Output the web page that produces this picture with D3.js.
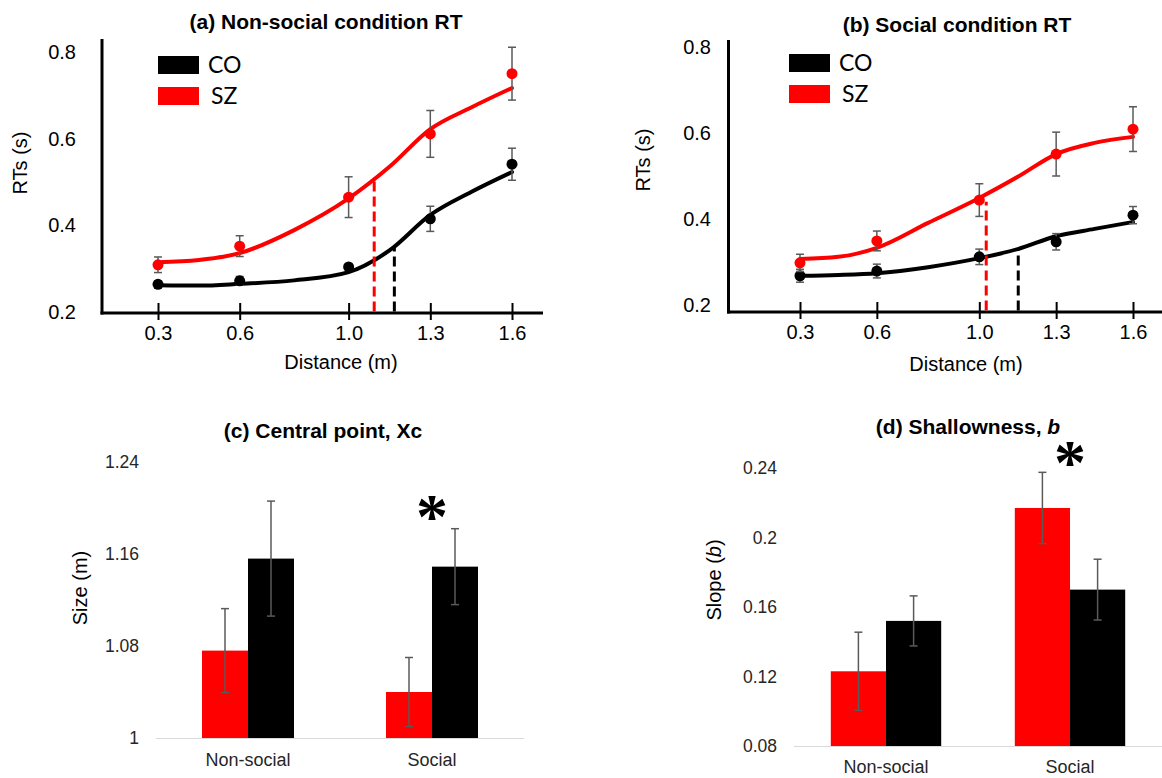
<!DOCTYPE html>
<html>
<head>
<meta charset="utf-8">
<script src="https://cdn.jsdelivr.net/npm/d3@7"></script>
<style>
body { margin: 0; background: #fff; }
svg { display: block; font-family: "Liberation Sans", Arial, sans-serif; }
</style>
</head>
<body>
<svg width="1162" height="778"></svg>
<script>
// ---- data ----
var distances = [0.3, 0.6, 1.0, 1.3, 1.6];          // x categories (m)
var distTicks = ["0.3", "0.6", "1.0", "1.3", "1.6"];
var rtTicks = [0.2, 0.4, 0.6, 0.8];

// (a) non-social condition: mean RT and error
var nsSZ = [0.309, 0.352, 0.465, 0.611, 0.750];
var nsSZerr = [0.018, 0.024, 0.047, 0.054, 0.061];
var nsCO = [0.264, 0.272, 0.304, 0.415, 0.541];
var nsCOerr = [0.008, 0.010, 0.005, 0.029, 0.037];

// (b) social condition
var soSZ = [0.298, 0.349, 0.444, 0.551, 0.609];
var soSZerr = [0.020, 0.023, 0.038, 0.051, 0.052];
var soCO = [0.268, 0.279, 0.312, 0.347, 0.409];
var soCOerr = [0.015, 0.016, 0.018, 0.019, 0.020];

// fitted curves, sampled from the figure
var fitX = [0.3, 0.45, 0.6, 0.8, 1.0, 1.15, 1.3, 1.45, 1.6];
var nsSZfit = [0.315, 0.320, 0.336, 0.389, 0.462, 0.535, 0.622, 0.672, 0.717];
var nsCOfit = [0.262, 0.261, 0.265, 0.273, 0.292, 0.342, 0.424, 0.477, 0.523];
var soSZfit = [0.307, 0.312, 0.333, 0.391, 0.449, 0.498, 0.551, 0.577, 0.591];
var soCOfit = [0.268, 0.270, 0.274, 0.288, 0.309, 0.330, 0.360, 0.377, 0.393];

// central point markers (dashed lines): [xc, RT at curve]
var nsSZxc = [1.094, 0.505], nsCOxc = [1.168, 0.348];
var soSZxc = [1.027, 0.440], soCOxc = [1.152, 0.328];

// (c) / (d) bar charts
var conditions = ["Non-social", "Social"];
var groups = ["SZ", "CO"];
var xcSZ = [1.076, 1.040], xcSZerr = [0.0365, 0.030];
var xcCO = [1.156, 1.149], xcCOerr = [0.050, 0.033];
var xcTicks = [1, 1.08, 1.16, 1.24], xcTickLabels = ["1", "1.08", "1.16", "1.24"];
var bSZ = [0.123, 0.217], bSZerr = [0.0225, 0.0205];
var bCO = [0.152, 0.170], bCOerr = [0.0144, 0.0175];
var bTicks = [0.08, 0.12, 0.16, 0.2, 0.24], bTickLabels = ["0.08", "0.12", "0.16", "0.2", "0.24"];

var colors = {SZ: "#ff0000", CO: "#000000"};
var errColor = "#5a5a5a";

var svg = d3.select("svg");

function errorBar(g, cx, y1, y2) {
    g.append("line").attr("x1", cx).attr("x2", cx).attr("y1", y1).attr("y2", y2)
        .attr("stroke", errColor).attr("stroke-width", 1.5);
    [y1, y2].forEach(function (yy) {
        g.append("line").attr("x1", cx - 4).attr("x2", cx + 4).attr("y1", yy).attr("y2", yy)
            .attr("stroke", errColor).attr("stroke-width", 1.5);
    });
}

function linePanel(p) {
    var g = svg.append("g");
    var x = d3.scaleLinear().domain([0.3, 1.6]).range(p.xr),
        y = d3.scaleLinear().domain([0.2, 0.8]).range(p.yr);

    // axes
    g.append("line").attr("x1", p.axisX).attr("x2", p.axisX).attr("y1", p.axisTop).attr("y2", p.axisY + 1.5)
        .attr("stroke", "#000").attr("stroke-width", 3);
    g.append("line").attr("x1", p.axisX - 1.5).attr("x2", p.axisRight).attr("y1", p.axisY).attr("y2", p.axisY)
        .attr("stroke", "#000").attr("stroke-width", 3);

    var xa = g.append("g").attr("transform", "translate(0," + p.axisY + ")")
        .call(d3.axisBottom(x).tickValues(distances).tickFormat(function (d, i) { return distTicks[i]; }));
    xa.select(".domain").remove();
    xa.attr("font-family", null).attr("font-size", null);
    xa.selectAll(".tick line").attr("y1", -10).attr("y2", 7).attr("stroke", "#000").attr("stroke-width", 2);
    xa.selectAll(".tick text").attr("y", 13).attr("font-size", 20).attr("fill", "#000");

    var ya = g.append("g").attr("transform", "translate(" + p.axisX + ",0)")
        .call(d3.axisLeft(y).tickValues(rtTicks).tickFormat(d3.format(".1f")).tickSize(0).tickPadding(p.axisX - p.labelRight));
    ya.select(".domain").remove();
    ya.attr("font-family", null).attr("font-size", null);
    ya.selectAll(".tick text").attr("font-size", 20).attr("fill", "#000");

    // titles
    g.append("text").attr("x", p.title[0]).attr("y", p.title[1]).attr("dy", "0.35em")
        .attr("text-anchor", "middle").attr("font-weight", "bold").attr("font-size", 21).text(p.titleText);
    g.append("text").attr("x", p.xTitle[0]).attr("y", p.xTitle[1]).attr("dy", "0.35em")
        .attr("text-anchor", "middle").attr("font-size", 20).text("Distance (m)");
    g.append("text").attr("transform", "translate(" + p.yTitle[0] + "," + p.yTitle[1] + ") rotate(-90)")
        .attr("dy", "0.35em").attr("text-anchor", "middle").attr("font-size", 20).text("RTs (s)");

    // legend
    [["CO", 0], ["SZ", 1]].forEach(function (l) {
        var ly = p.legend[1] + l[1] * 31;
        g.append("rect").attr("x", p.legend[0]).attr("y", ly).attr("width", 41).attr("height", 18).attr("fill", colors[l[0]]);
        g.append("text").attr("x", p.legend[0] + 50 + l[1] * 3).attr("y", ly + 9).attr("dy", "0.36em")
            .attr("font-family", "Lato, 'Liberation Sans', sans-serif")
            .attr("font-size", 23).text(l[0]);
    });

    var line = d3.line().curve(d3.curveMonotoneX)
        .x(function (d) { return x(d[0]); })
        .y(function (d) { return y(d[1]); });

    [["CO", p.coFit], ["SZ", p.szFit]].forEach(function (s) {
        g.append("path").attr("d", line(fitX.map(function (v, i) { return [v, s[1][i]]; })))
            .attr("fill", "none").attr("stroke", colors[s[0]]).attr("stroke-width", 4).attr("stroke-linecap", "round");
    });

    // dashed central points
    [["CO", p.coXc], ["SZ", p.szXc]].forEach(function (s) {
        g.append("line").attr("x1", x(s[1][0])).attr("x2", x(s[1][0]))
            .attr("y1", p.axisY - 1.5).attr("y2", y(s[1][1]))
            .attr("stroke", colors[s[0]]).attr("stroke-width", 3).attr("stroke-dasharray", "10,5");
    });

    // error bars and points
    [["CO", p.co, p.coErr], ["SZ", p.sz, p.szErr]].forEach(function (s) {
        distances.forEach(function (d, i) {
            errorBar(g, x(d), y(s[1][i] - s[2][i]), y(s[1][i] + s[2][i]));
        });
        g.selectAll(null).data(distances).enter().append("circle")
            .attr("cx", function (d) { return x(d); })
            .attr("cy", function (d, i) { return y(s[1][i]); })
            .attr("r", 5.5).attr("fill", colors[s[0]]);
    });
}

function barPanel(p) {
    var g = svg.append("g");
    var x0 = d3.scaleBand().domain(conditions).range(p.xr).paddingInner(p.pad).paddingOuter(p.pad / 2),
        x1 = d3.scaleBand().domain(groups).range([0, x0.bandwidth()]),
        y = d3.scaleLinear().domain([p.ticks[0], p.ticks[p.ticks.length - 1]]).range(p.yr);

    g.append("line").attr("x1", p.xr[0]).attr("x2", p.xr[1]).attr("y1", y(p.ticks[0]) + 0.5).attr("y2", y(p.ticks[0]) + 0.5)
        .attr("stroke", "#d9d9d9").attr("stroke-width", 1.2);

    var series = {SZ: [p.sz, p.szErr], CO: [p.co, p.coErr]};
    groups.forEach(function (grp) {
        g.selectAll(null).data(conditions).enter().append("rect")
            .attr("x", function (c) { return x0(c) + x1(grp); })
            .attr("y", function (c, i) { return y(series[grp][0][i]); })
            .attr("width", x1.bandwidth())
            .attr("height", function (c, i) { return y(p.ticks[0]) - y(series[grp][0][i]); })
            .attr("fill", colors[grp]);
    });
    groups.forEach(function (grp) {
        conditions.forEach(function (c, i) {
            var m = series[grp][0][i], e = series[grp][1][i];
            errorBar(g, x0(c) + x1(grp) + x1.bandwidth() / 2, y(m - e), y(m + e));
        });
    });

    var ya = g.append("g").attr("transform", "translate(" + p.labelRight + ",0)")
        .call(d3.axisLeft(y).tickValues(p.ticks).tickFormat(function (d, i) { return p.tickLabels[i]; }).tickSize(0).tickPadding(0));
    ya.select(".domain").remove();
    ya.attr("font-family", null).attr("font-size", null);
    ya.selectAll(".tick text").attr("font-size", 17.5).attr("fill", "#262626");

    var xa = g.append("g").attr("transform", "translate(0," + p.catY + ")")
        .call(d3.axisBottom(x0).tickSize(0).tickPadding(0));
    xa.select(".domain").remove();
    xa.attr("font-family", null).attr("font-size", null);
    xa.selectAll(".tick text").attr("dy", "0.35em").attr("font-size", 18).attr("fill", "#262626");

    var t = g.append("text").attr("x", p.title[0]).attr("y", p.title[1]).attr("dy", "0.35em")
        .attr("text-anchor", "middle").attr("font-weight", "bold").attr("font-size", 21);
    t.append("tspan").text(p.titleText[0]);
    if (p.titleText[1]) t.append("tspan").attr("font-style", "italic").text(p.titleText[1]);

    var yt = g.append("text").attr("transform", "translate(" + p.yTitle[0] + "," + p.yTitle[1] + ") rotate(-90)")
        .attr("dy", "0.35em").attr("text-anchor", "middle").attr("font-size", 20);
    yt.append("tspan").text(p.yTitleText[0]);
    if (p.yTitleText[1]) {
        yt.append("tspan").attr("font-style", "italic").text(p.yTitleText[1]);
        yt.append("tspan").text(p.yTitleText[2]);
    }

    g.append("text").attr("x", x0(p.star) + x0.bandwidth() / 2).attr("y", p.starY + 31)
        .attr("text-anchor", "middle").attr("font-family", "'Liberation Serif', serif")
        .attr("font-weight", "bold").attr("font-size", 64).text("*");
}

linePanel({
    xr: [158, 512], yr: [312, 52], axisX: 102, axisTop: 39, axisY: 313, axisRight: 543, labelRight: 76,
    title: [326, 22], titleText: "(a) Non-social condition RT",
    xTitle: [341, 362], yTitle: [20, 163], legend: [158, 56],
    sz: nsSZ, szErr: nsSZerr, co: nsCO, coErr: nsCOerr,
    szFit: nsSZfit, coFit: nsCOfit, szXc: nsSZxc, coXc: nsCOxc
});

linePanel({
    xr: [800, 1133], yr: [305, 47], axisX: 728.5, axisTop: 40, axisY: 312, axisRight: 1162, labelRight: 711,
    title: [957, 25], titleText: "(b) Social condition RT",
    xTitle: [966, 364], yTitle: [643, 160], legend: [789, 54],
    sz: soSZ, szErr: soSZerr, co: soCO, coErr: soCOerr,
    szFit: soSZfit, coFit: soCOfit, szXc: soSZxc, coXc: soCOxc
});

barPanel({
    xr: [156, 524], yr: [738, 462], pad: 0.5, ticks: xcTicks, tickLabels: xcTickLabels,
    labelRight: 139, catY: 760, title: [323, 431], titleText: ["(c) Central point, Xc"],
    yTitle: [80, 588], yTitleText: ["Size (m)"], star: "Social", starY: 507,
    sz: xcSZ, szErr: xcSZerr, co: xcCO, coErr: xcCOerr
});

barPanel({
    xr: [794, 1162], yr: [746, 468], pad: 0.4, ticks: bTicks, tickLabels: bTickLabels,
    labelRight: 777, catY: 767, title: [968, 427], titleText: ["(d) Shallowness, ", "b"],
    yTitle: [714, 580], yTitleText: ["Slope (", "b", ")"], star: "Social", starY: 453,
    sz: bSZ, szErr: bSZerr, co: bCO, coErr: bCOerr
});
</script>
</body>
</html>
